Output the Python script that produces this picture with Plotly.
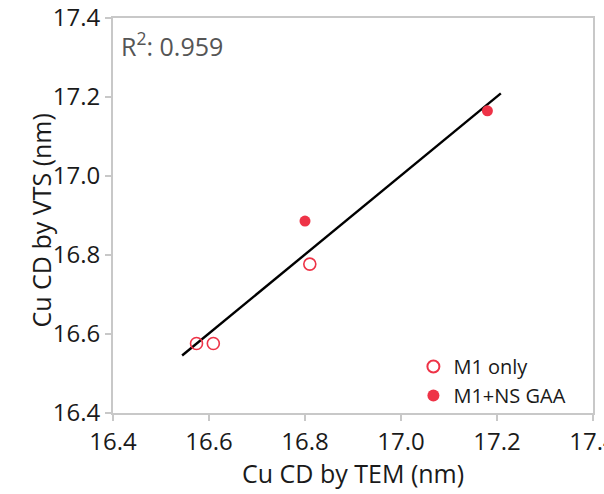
import numpy as np
import plotly.graph_objects as go

# Cu CD measured by TEM (x) vs VTS (y), nm
m1_tem = [16.574, 16.609, 16.810]
m1_vts = [16.576, 16.576, 16.777]
ns_tem = [16.800, 17.180]
ns_vts = [16.886, 17.165]

# span of the drawn fit line
fit_span = [16.544, 17.208]

x_ticks = [16.4, 16.6, 16.8, 17.0, 17.2, 17.4]
y_ticks = [16.4, 16.6, 16.8, 17.0, 17.2, 17.4]

red = "#EE3347"
frame = "#C8C8C8"
ink = "#1a1a1a"
font_family = "Open Sans, Noto Sans, sans-serif"

all_x = np.array(m1_tem + ns_tem)
all_y = np.array(m1_vts + ns_vts)
slope, intercept = np.polyfit(all_x, all_y, 1)
r2 = np.corrcoef(all_x, all_y)[0, 1] ** 2
fx = np.array(fit_span)
fy = slope * fx + intercept

fig = go.Figure()
fig.add_trace(go.Scatter(
    x=fx, y=fy, mode="lines", line=dict(color="black", width=2.4),
    showlegend=False, hoverinfo="skip"))
fig.add_trace(go.Scatter(
    x=m1_tem, y=m1_vts, mode="markers", name="M1 only",
    marker=dict(symbol="circle-open", size=12, color=red, line=dict(width=1.6, color=red))))
fig.add_trace(go.Scatter(
    x=ns_tem, y=ns_vts, mode="markers", name="M1+NS GAA",
    marker=dict(symbol="circle", size=11, color=red)))

axis_common = dict(
    showline=True, mirror=True, linecolor=frame, linewidth=2,
    ticks="outside", tickcolor=frame, ticklen=6, tickwidth=2,
    showgrid=False, zeroline=False, automargin=False,
    tickfont=dict(size=24, color=ink, family=font_family),
    tickformat=".1f", ticklabeloverflow="allow",
)

fig.update_xaxes(range=[16.4, 17.4], tickvals=x_ticks, **axis_common)
fig.update_yaxes(range=[16.4, 17.4], tickvals=y_ticks, **axis_common)

title_font = dict(size=25, color=ink, family=font_family)
# axis titles placed as annotations for precise spacing
fig.add_annotation(
    xref="paper", yref="paper", x=0.5, y=0, xanchor="center", yanchor="middle",
    yshift=-60, text="Cu CD by TEM (nm)", showarrow=False, font=title_font)
fig.add_annotation(
    xref="paper", yref="paper", x=0, y=0.5, xanchor="center", yanchor="middle",
    xshift=-73, yshift=-5, textangle=-90, text="Cu CD by VTS (nm)", showarrow=False, font=title_font)

fig.add_annotation(
    xref="paper", yref="paper", x=0.012, y=0.985, xanchor="left", yanchor="top",
    text=f"R<sup>2</sup>: {r2:.3f}", showarrow=False,
    font=dict(size=25, color="#555555", family=font_family))

fig.update_layout(
    width=604, height=494,
    margin=dict(l=113, r=11, t=18, b=81),
    paper_bgcolor="white", plot_bgcolor="white",
    font=dict(family=font_family),
    legend=dict(
        x=0.955, y=-0.005, xanchor="right", yanchor="bottom",
        bgcolor="rgba(0,0,0,0)", font=dict(size=20, color=ink, family=font_family),
        itemsizing="constant", tracegroupgap=0, itemwidth=30),
)

fig.write_html("out.html")
